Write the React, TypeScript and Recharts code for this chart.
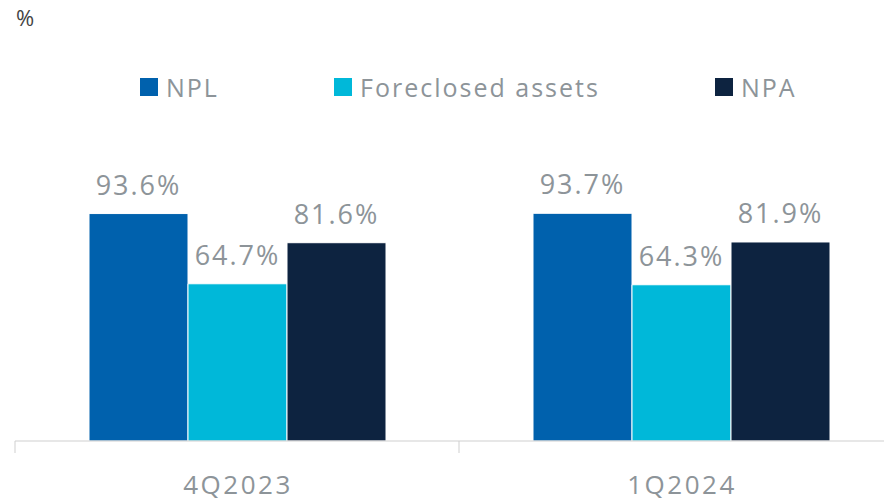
import { BarChart, Bar, XAxis, YAxis, LabelList } from "recharts"

const periods = ["4Q2023", "1Q2024"]
const nplValues = [93.6, 93.7]
const foreclosedValues = [64.7, 64.3]
const npaValues = [81.6, 81.9]
const seriesNames = ["NPL", "Foreclosed assets", "NPA"]

const data = periods.map((p, i) => ({
  period: p,
  npl: nplValues[i],
  foreclosed: foreclosedValues[i],
  npa: npaValues[i],
}))

const COLORS = ["#0061ad", "#00b8d9", "#0d2340"]
const FONT = "'Open Sans', sans-serif"
const GREY = "#8d9499"

const CHART_W = 920
const MARGIN_L = 15
const MARGIN_R = 17
const HALF_BAND = (CHART_W - MARGIN_L - MARGIN_R) / periods.length / 2

function PeriodTick(props: any) {
  const { x, y, payload } = props
  return (
    <g>
      <line x1={x - HALF_BAND} y1={y - 8} x2={x - HALF_BAND} y2={y + 4} stroke="#cfcfcf" />
      <text
        x={x + 1}
        y={y + 45}
        textAnchor="middle"
        fill={GREY}
        fontSize={26}
        fontFamily={FONT}
        letterSpacing={2.5}
      >
        {payload.value}
      </text>
    </g>
  )
}

const legendX = [140, 334, 715]

export default function App() {
  return (
    <div
      style={{
        margin: "-8px -8px 0 -8px",
        width: 892,
        height: 502,
        overflow: "hidden",
        position: "relative",
        background: "#fff",
      }}
    >
      <div style={{ position: "absolute", left: 16, top: 2, fontFamily: FONT, fontSize: 22, color: "#444" }}>%</div>
      {seriesNames.map((name, i) => (
        <div
          key={name}
          style={{
            position: "absolute",
            left: legendX[i],
            top: 70,
            display: "flex",
            alignItems: "center",
            fontFamily: FONT,
            fontSize: 25,
            letterSpacing: 2,
            color: GREY,
            whiteSpace: "nowrap",
          }}
        >
          <span style={{ width: 18, height: 18, background: COLORS[i], marginRight: 8, display: "inline-block" }} />
          {name}
        </div>
      ))}
      <div style={{ position: "absolute", left: 0, top: 0 }}>
        <BarChart
          width={CHART_W}
          height={502}
          data={data}
          margin={{ top: 198, right: MARGIN_R, left: MARGIN_L, bottom: 0 }}
          barCategoryGap={74}
          barGap={0}
        >
          <XAxis
            dataKey="period"
            height={61}
            axisLine={{ stroke: "#cfcfcf" }}
            tickLine={false}
            tick={<PeriodTick />}
            interval={0}
          />
          <YAxis hide domain={[0, 100]} />
          {(["npl", "foreclosed", "npa"] as const).map((key, i) => (
            <Bar key={key} dataKey={key} fill={COLORS[i]} stroke="#ffffff" strokeWidth={1} isAnimationActive={false}>
              <LabelList
                dataKey={key}
                position="top"
                offset={19}
                formatter={(v: any) => `${Number(v).toFixed(1)}%`}
                style={{ fill: GREY, fontSize: 27, fontFamily: FONT, letterSpacing: 2 }}
              />
            </Bar>
          ))}
        </BarChart>
      </div>
    </div>
  )
}
